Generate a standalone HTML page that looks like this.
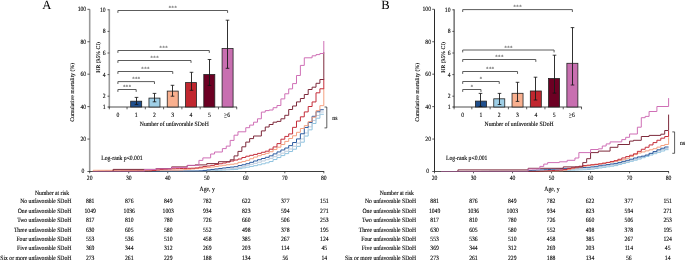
<!DOCTYPE html>
<html><head><meta charset="utf-8"><style>
html,body{margin:0;padding:0;background:#fff;}
svg{display:block;will-change:transform;}
text{font-family:"Liberation Serif", serif;fill:#000;stroke:#000;stroke-width:0.1px;text-rendering:geometricPrecision;}
</style></head><body>
<svg width="685" height="261" viewBox="0 0 685 261">
<rect width="685" height="261" fill="#fff"/>
<text x="42.30" y="8.90" text-anchor="start" font-size="12.6" style="stroke:none">A</text>
<line x1="89.70" y1="9.30" x2="89.70" y2="172.00" stroke="#9a9a9a" stroke-width="1.6"/>
<line x1="89.10" y1="171.50" x2="324.20" y2="171.50" stroke="#3a3a3a" stroke-width="0.9"/>
<line x1="87.40" y1="171.50" x2="89.70" y2="171.50" stroke="#333" stroke-width="0.8"/>
<text transform="translate(84.40 173.40) scale(1 1.15)" text-anchor="end" font-size="5.7" >0</text>
<line x1="87.40" y1="139.06" x2="89.70" y2="139.06" stroke="#333" stroke-width="0.8"/>
<text transform="translate(86.20 140.96) scale(1 1.15)" text-anchor="end" font-size="5.7" >20</text>
<line x1="87.40" y1="106.62" x2="89.70" y2="106.62" stroke="#333" stroke-width="0.8"/>
<text transform="translate(86.20 108.52) scale(1 1.15)" text-anchor="end" font-size="5.7" >40</text>
<line x1="87.40" y1="74.18" x2="89.70" y2="74.18" stroke="#333" stroke-width="0.8"/>
<text transform="translate(86.20 76.08) scale(1 1.15)" text-anchor="end" font-size="5.7" >60</text>
<line x1="87.40" y1="41.74" x2="89.70" y2="41.74" stroke="#333" stroke-width="0.8"/>
<text transform="translate(86.20 43.64) scale(1 1.15)" text-anchor="end" font-size="5.7" >80</text>
<line x1="87.40" y1="9.30" x2="89.70" y2="9.30" stroke="#333" stroke-width="0.8"/>
<text transform="translate(86.20 11.20) scale(1 1.15)" text-anchor="end" font-size="5.7" >100</text>
<line x1="89.70" y1="171.50" x2="89.70" y2="173.30" stroke="#333" stroke-width="0.8"/>
<text transform="translate(89.70 179.80) scale(1 1.15)" text-anchor="middle" font-size="5.7" >20</text>
<line x1="128.72" y1="171.50" x2="128.72" y2="173.30" stroke="#333" stroke-width="0.8"/>
<text transform="translate(128.72 179.80) scale(1 1.15)" text-anchor="middle" font-size="5.7" >30</text>
<line x1="167.73" y1="171.50" x2="167.73" y2="173.30" stroke="#333" stroke-width="0.8"/>
<text transform="translate(167.73 179.80) scale(1 1.15)" text-anchor="middle" font-size="5.7" >40</text>
<line x1="206.75" y1="171.50" x2="206.75" y2="173.30" stroke="#333" stroke-width="0.8"/>
<text transform="translate(206.75 179.80) scale(1 1.15)" text-anchor="middle" font-size="5.7" >50</text>
<line x1="245.77" y1="171.50" x2="245.77" y2="173.30" stroke="#333" stroke-width="0.8"/>
<text transform="translate(245.77 179.80) scale(1 1.15)" text-anchor="middle" font-size="5.7" >60</text>
<line x1="284.79" y1="171.50" x2="284.79" y2="173.30" stroke="#333" stroke-width="0.8"/>
<text transform="translate(284.79 179.80) scale(1 1.15)" text-anchor="middle" font-size="5.7" >70</text>
<line x1="323.80" y1="171.50" x2="323.80" y2="173.30" stroke="#333" stroke-width="0.8"/>
<text transform="translate(323.80 179.80) scale(1 1.15)" text-anchor="middle" font-size="5.7" >80</text>
<path d="M93.20,171.50H117.01V171.45H148.23V171.39H179.44V171.33H198.95V171.25H202.85V171.05H206.75V170.84H210.65V170.63H214.55V170.43H218.46V170.22H222.36V170.02H226.26V169.81H230.16V169.61H234.06V169.40H237.96V168.65H241.87V167.90H245.77V167.16H249.67V166.41H253.57V165.66H257.47V164.77H261.37V163.81H265.28V162.84H269.18V161.52H273.08V159.54H276.98V157.55H280.88V155.58H284.79V153.63H288.69V151.53H292.59V149.22H296.49V146.36H300.39V142.20H304.29V136.07H308.20V129.84H312.10V123.50H316.00V118.23H319.90V114.27H323.80" fill="none" stroke="#8fc3df" stroke-width="1.0"/>
<path d="M93.20,171.50H109.21V171.44H128.72V171.39H148.23V171.34H167.73V171.28H187.24V171.23H198.95V171.13H202.85V170.81H206.75V170.50H210.65V170.18H214.55V169.87H218.46V169.56H222.36V169.24H226.26V168.93H230.16V168.61H234.06V168.30H237.96V167.31H241.87V166.32H245.77V165.33H249.67V164.34H253.57V163.35H257.47V162.20H261.37V160.96H265.28V159.72H269.18V158.33H273.08V156.66H276.98V154.99H280.88V153.18H284.79V151.23H288.69V148.97H292.59V146.27H296.49V143.13H300.39V138.93H304.29V132.98H308.20V126.84H312.10V120.50H316.00V115.46H319.90V112.02H323.80" fill="none" stroke="#bccbdc" stroke-width="1.0"/>
<path d="M93.20,171.50H101.41V171.44H113.11V171.39H124.82V171.33H136.52V171.28H148.23V171.23H159.93V171.17H171.64V171.12H183.34V171.07H195.05V171.01H198.95V170.89H202.85V170.41H206.75V169.92H210.65V169.44H214.55V168.96H218.46V168.47H222.36V167.97H226.26V167.48H230.16V167.09H234.06V166.70H237.96V165.56H241.87V164.75H245.77V163.70H249.67V162.34H253.57V160.98H257.47V159.72H261.37V158.51H265.28V157.30H269.18V155.84H273.08V153.88H276.98V151.93H280.88V149.98H284.79V148.03H288.69V145.61H292.59V142.52H296.49V138.91H300.39V133.78H304.29V127.46H308.20V122.53H312.10V116.31H316.00V111.78H319.90V109.73H323.80" fill="none" stroke="#2c5b9f" stroke-width="1.0"/>
<path d="M93.20,171.50H93.20V170.29H117.01V170.24H140.42V170.18H163.83V170.13H179.44V169.98H183.34V169.63H187.24V169.28H191.14V168.93H195.05V168.58H198.95V168.23H202.85V167.85H206.75V167.45H210.65V167.04H214.55V166.51H218.46V165.90H222.36V165.29H226.26V164.73H230.16V164.26H234.06V163.79H237.96V162.36H241.87V161.55H245.77V160.37H249.67V158.73H253.57V157.08H257.47V155.72H261.37V154.51H265.28V153.30H269.18V151.73H273.08V149.46H276.98V147.20H280.88V144.53H284.79V141.41H288.69V138.47H292.59V135.77H296.49V132.32H300.39V128.49H304.29V125.61H308.20V121.61H312.10V117.24H316.00V110.63H319.90V105.67H323.80V88.20" fill="none" stroke="#f4a080" stroke-width="1.0"/>
<path d="M93.20,171.50H97.50V171.42H105.31V171.36H113.11V171.29H120.91V171.23H128.72V171.16H136.52V171.10H144.32V171.03H148.23V170.98H152.13V170.43H156.03V169.88H159.93V169.48H163.83V169.24H167.73V169.00H171.64V168.78H175.54V168.66H179.44V168.54H183.34V168.42H187.24V168.31H191.14V168.19H195.05V167.91H198.95V167.18H202.85V166.55H206.75V165.99H210.65V165.36H214.55V164.57H218.46V163.78H222.36V163.00H226.26V162.01H230.16V161.02H234.06V160.03H237.96V159.02H241.87V157.49H245.77V156.23H249.67V155.32H253.57V154.42H257.47V153.39H261.37V152.28H265.28V151.18H269.18V149.19H273.08V146.92H276.98V143.60H280.88V139.19H284.79V136.41H288.69V133.92H292.59V127.35H296.49V121.07H300.39V116.82H304.29V111.92H308.20V106.50H312.10V101.95H316.00V92.82H319.90V88.78H323.80V78.70" fill="none" stroke="#c42d3a" stroke-width="1.0"/>
<path d="M93.20,171.50H113.11V169.40H156.03V168.50H171.64V166.90H187.24V165.50H195.05V164.90H206.75V163.60H218.46V161.70H230.16V159.80H234.06V155.90H237.96V151.40H241.87V146.80H245.77V142.10H249.67V138.60H253.57V136.00H261.37V130.90H265.28V127.00H269.18V124.50H273.08V122.20H276.98V121.40H280.88V118.80H284.79V115.30H288.69V109.50H292.59V106.00H296.49V101.90H300.39V98.50H304.29V94.50H308.20V89.50H312.10V87.20H316.00V83.30H319.90V79.50H323.80V78.70H323.80V52.20" fill="none" stroke="#7e2a3c" stroke-width="1.0"/>
<path d="M93.20,171.50H144.32V169.50H156.03V168.80H171.64V167.50H187.24V165.30H198.95V160.40H202.85V157.90H210.65V154.00H214.55V152.00H222.36V148.60H226.26V146.10H230.16V140.40H234.06V135.20H237.96V131.80H245.77V127.70H249.67V125.10H253.57V122.20H257.47V118.80H261.37V112.10H265.28V110.60H269.18V110.00H273.08V107.70H276.98V105.50H280.88V98.90H284.79V93.80H288.69V88.90H292.59V83.60H296.49V75.50H300.39V65.40H304.29V57.80H312.10V55.80H316.00V54.60H319.90V53.50H323.80V52.20H323.80V41.00" fill="none" stroke="#cf6fb6" stroke-width="1.0"/>
<line x1="93.20" y1="171.50" x2="323.80" y2="171.50" stroke="#2a2a2a" stroke-width="0.9" stroke-opacity="0.5"/>
<text transform="translate(207.15 191.00) scale(1 1.15)" text-anchor="middle" font-size="5.7" >Age, y</text>
<text x="72.20" y="92.30" text-anchor="middle" font-size="5.7" transform="rotate(-90 72.20 92.30)" dy="1.9">Cumulative mortality (%)</text>
<text transform="translate(101.20 159.80) scale(1 1.15)" text-anchor="start" font-size="5.7" >Log-rank p&lt;0.001</text>
<line x1="326.80" y1="107.00" x2="326.80" y2="127.90" stroke="#333" stroke-width="0.8"/>
<line x1="324.50" y1="107.00" x2="326.80" y2="107.00" stroke="#333" stroke-width="0.8"/>
<line x1="324.50" y1="127.90" x2="326.80" y2="127.90" stroke="#333" stroke-width="0.8"/>
<text transform="translate(332.30 119.65) scale(1 1.15)" text-anchor="start" font-size="5.7" >ns</text>
<line x1="109.30" y1="9.30" x2="109.30" y2="107.40" stroke="#9a9a9a" stroke-width="1.6"/>
<line x1="108.70" y1="107.00" x2="237.02" y2="107.00" stroke="#3a3a3a" stroke-width="0.9"/>
<line x1="107.50" y1="107.00" x2="109.30" y2="107.00" stroke="#333" stroke-width="0.8"/>
<text transform="translate(105.70 108.90) scale(1 1.15)" text-anchor="end" font-size="5.7" >1</text>
<line x1="107.50" y1="96.20" x2="109.30" y2="96.20" stroke="#333" stroke-width="0.8"/>
<text transform="translate(105.70 98.10) scale(1 1.15)" text-anchor="end" font-size="5.7" >2</text>
<line x1="107.50" y1="74.60" x2="109.30" y2="74.60" stroke="#333" stroke-width="0.8"/>
<text transform="translate(105.70 76.50) scale(1 1.15)" text-anchor="end" font-size="5.7" >4</text>
<line x1="107.50" y1="53.00" x2="109.30" y2="53.00" stroke="#333" stroke-width="0.8"/>
<text transform="translate(105.70 54.90) scale(1 1.15)" text-anchor="end" font-size="5.7" >6</text>
<line x1="107.50" y1="31.40" x2="109.30" y2="31.40" stroke="#333" stroke-width="0.8"/>
<text transform="translate(105.70 33.30) scale(1 1.15)" text-anchor="end" font-size="5.7" >8</text>
<line x1="107.50" y1="9.80" x2="109.30" y2="9.80" stroke="#333" stroke-width="0.8"/>
<text transform="translate(105.70 11.70) scale(1 1.15)" text-anchor="end" font-size="5.7" >10</text>
<line x1="109.30" y1="107.00" x2="109.30" y2="109.30" stroke="#333" stroke-width="0.8"/>
<line x1="127.04" y1="107.00" x2="127.04" y2="109.30" stroke="#333" stroke-width="0.8"/>
<line x1="145.32" y1="107.00" x2="145.32" y2="109.30" stroke="#333" stroke-width="0.8"/>
<line x1="163.60" y1="107.00" x2="163.60" y2="109.30" stroke="#333" stroke-width="0.8"/>
<line x1="181.88" y1="107.00" x2="181.88" y2="109.30" stroke="#333" stroke-width="0.8"/>
<line x1="200.16" y1="107.00" x2="200.16" y2="109.30" stroke="#333" stroke-width="0.8"/>
<line x1="218.44" y1="107.00" x2="218.44" y2="109.30" stroke="#333" stroke-width="0.8"/>
<line x1="236.72" y1="107.00" x2="236.72" y2="109.30" stroke="#333" stroke-width="0.8"/>
<text transform="translate(117.90 116.90) scale(1 1.15)" text-anchor="middle" font-size="5.7" >0</text>
<text transform="translate(136.18 116.90) scale(1 1.15)" text-anchor="middle" font-size="5.7" >1</text>
<text transform="translate(154.46 116.90) scale(1 1.15)" text-anchor="middle" font-size="5.7" >2</text>
<text transform="translate(172.74 116.90) scale(1 1.15)" text-anchor="middle" font-size="5.7" >3</text>
<text transform="translate(191.02 116.90) scale(1 1.15)" text-anchor="middle" font-size="5.7" >4</text>
<text transform="translate(209.30 116.90) scale(1 1.15)" text-anchor="middle" font-size="5.7" >5</text>
<path d="M224.18,113.40L226.68,114.70L224.18,116.00M224.18,117.50H226.68" fill="none" stroke="#333" stroke-width="0.55"/>
<text transform="translate(228.68 116.90) scale(1 1.15)" text-anchor="middle" font-size="5.7" >6</text>
<text transform="translate(174.30 125.90) scale(1 1.15)" text-anchor="middle" font-size="5.7" >Number of unfavorable SDoH</text>
<text x="98.50" y="57.30" text-anchor="middle" font-size="5.7" transform="rotate(-90 98.50 57.30)" dy="1.9">HR (95% CI)</text>
<rect x="130.68" y="101.20" width="11.00" height="5.80" fill="#1f4f8d" stroke="#222" stroke-width="0.8"/>
<rect x="148.96" y="98.10" width="11.00" height="8.90" fill="#9fcfe6" stroke="#222" stroke-width="0.8"/>
<rect x="167.24" y="91.10" width="11.00" height="15.90" fill="#f9b08f" stroke="#222" stroke-width="0.8"/>
<rect x="185.52" y="82.60" width="11.00" height="24.40" fill="#c1272f" stroke="#222" stroke-width="0.8"/>
<rect x="203.80" y="74.50" width="11.00" height="32.50" fill="#6c0023" stroke="#222" stroke-width="0.8"/>
<rect x="222.08" y="48.40" width="11.00" height="58.60" fill="#c86fb0" stroke="#222" stroke-width="0.8"/>
<line x1="136.50" y1="97.40" x2="136.50" y2="104.40" stroke="#1a1a1a" stroke-width="0.9"/>
<line x1="134.70" y1="97.40" x2="138.30" y2="97.40" stroke="#111" stroke-width="0.8"/>
<line x1="134.70" y1="104.40" x2="138.30" y2="104.40" stroke="#111" stroke-width="0.8"/>
<line x1="154.50" y1="93.40" x2="154.50" y2="101.80" stroke="#1a1a1a" stroke-width="0.9"/>
<line x1="152.70" y1="93.40" x2="156.30" y2="93.40" stroke="#111" stroke-width="0.8"/>
<line x1="152.70" y1="101.80" x2="156.30" y2="101.80" stroke="#111" stroke-width="0.8"/>
<line x1="172.50" y1="85.30" x2="172.50" y2="96.20" stroke="#1a1a1a" stroke-width="0.9"/>
<line x1="170.70" y1="85.30" x2="174.30" y2="85.30" stroke="#111" stroke-width="0.8"/>
<line x1="170.70" y1="96.20" x2="174.30" y2="96.20" stroke="#111" stroke-width="0.8"/>
<line x1="191.50" y1="72.30" x2="191.50" y2="90.30" stroke="#1a1a1a" stroke-width="0.9"/>
<line x1="189.70" y1="72.30" x2="193.30" y2="72.30" stroke="#111" stroke-width="0.8"/>
<line x1="189.70" y1="90.30" x2="193.30" y2="90.30" stroke="#111" stroke-width="0.8"/>
<line x1="209.50" y1="59.50" x2="209.50" y2="85.40" stroke="#1a1a1a" stroke-width="0.9"/>
<line x1="207.70" y1="59.50" x2="211.30" y2="59.50" stroke="#111" stroke-width="0.8"/>
<line x1="207.70" y1="85.40" x2="211.30" y2="85.40" stroke="#111" stroke-width="0.8"/>
<line x1="227.50" y1="20.20" x2="227.50" y2="68.30" stroke="#1a1a1a" stroke-width="0.9"/>
<line x1="225.70" y1="20.20" x2="229.30" y2="20.20" stroke="#111" stroke-width="0.8"/>
<line x1="225.70" y1="68.30" x2="229.30" y2="68.30" stroke="#111" stroke-width="0.8"/>
<path d="M117.90,91.90V89.50H136.18V91.90" fill="none" stroke="#4a4a4a" stroke-width="0.9"/>
<text transform="translate(127.04 89.00) scale(1 1.15)" text-anchor="middle" font-size="5.7" style="stroke:none;fill:#333">***</text>
<path d="M117.90,84.00V81.60H154.46V84.00" fill="none" stroke="#4a4a4a" stroke-width="0.9"/>
<text transform="translate(136.18 81.10) scale(1 1.15)" text-anchor="middle" font-size="5.7" style="stroke:none;fill:#333">***</text>
<path d="M117.90,73.90V71.50H172.74V73.90" fill="none" stroke="#4a4a4a" stroke-width="0.9"/>
<text transform="translate(145.32 71.00) scale(1 1.15)" text-anchor="middle" font-size="5.7" style="stroke:none;fill:#333">***</text>
<path d="M117.90,62.90V60.50H191.02V62.90" fill="none" stroke="#4a4a4a" stroke-width="0.9"/>
<text transform="translate(154.46 60.00) scale(1 1.15)" text-anchor="middle" font-size="5.7" style="stroke:none;fill:#333">***</text>
<path d="M117.90,52.90V50.50H209.30V52.90" fill="none" stroke="#4a4a4a" stroke-width="0.9"/>
<text transform="translate(163.60 50.00) scale(1 1.15)" text-anchor="middle" font-size="5.7" style="stroke:none;fill:#333">***</text>
<path d="M117.90,12.90V10.50H227.58V12.90" fill="none" stroke="#4a4a4a" stroke-width="0.9"/>
<text transform="translate(172.74 10.00) scale(1 1.15)" text-anchor="middle" font-size="5.7" style="stroke:none;fill:#333">***</text>
<text transform="translate(52.00 195.00) scale(1 1.15)" text-anchor="middle" font-size="5.7" >Number at risk</text>
<text transform="translate(71.40 203.10) scale(1 1.15)" text-anchor="end" font-size="5.7" >No unfavorable SDoH</text>
<text transform="translate(90.20 203.10) scale(1 1.15)" text-anchor="middle" font-size="5.7" >881</text>
<text transform="translate(129.22 203.10) scale(1 1.15)" text-anchor="middle" font-size="5.7" >876</text>
<text transform="translate(168.23 203.10) scale(1 1.15)" text-anchor="middle" font-size="5.7" >849</text>
<text transform="translate(207.25 203.10) scale(1 1.15)" text-anchor="middle" font-size="5.7" >782</text>
<text transform="translate(246.27 203.10) scale(1 1.15)" text-anchor="middle" font-size="5.7" >622</text>
<text transform="translate(285.29 203.10) scale(1 1.15)" text-anchor="middle" font-size="5.7" >377</text>
<text transform="translate(324.30 203.10) scale(1 1.15)" text-anchor="middle" font-size="5.7" >151</text>
<text transform="translate(71.40 212.57) scale(1 1.15)" text-anchor="end" font-size="5.7" >One unfavorable SDoH</text>
<text transform="translate(90.20 212.57) scale(1 1.15)" text-anchor="middle" font-size="5.7" >1049</text>
<text transform="translate(129.22 212.57) scale(1 1.15)" text-anchor="middle" font-size="5.7" >1036</text>
<text transform="translate(168.23 212.57) scale(1 1.15)" text-anchor="middle" font-size="5.7" >1003</text>
<text transform="translate(207.25 212.57) scale(1 1.15)" text-anchor="middle" font-size="5.7" >934</text>
<text transform="translate(246.27 212.57) scale(1 1.15)" text-anchor="middle" font-size="5.7" >823</text>
<text transform="translate(285.29 212.57) scale(1 1.15)" text-anchor="middle" font-size="5.7" >594</text>
<text transform="translate(324.30 212.57) scale(1 1.15)" text-anchor="middle" font-size="5.7" >271</text>
<text transform="translate(71.40 222.04) scale(1 1.15)" text-anchor="end" font-size="5.7" >Two unfavorable SDoH</text>
<text transform="translate(90.20 222.04) scale(1 1.15)" text-anchor="middle" font-size="5.7" >817</text>
<text transform="translate(129.22 222.04) scale(1 1.15)" text-anchor="middle" font-size="5.7" >810</text>
<text transform="translate(168.23 222.04) scale(1 1.15)" text-anchor="middle" font-size="5.7" >780</text>
<text transform="translate(207.25 222.04) scale(1 1.15)" text-anchor="middle" font-size="5.7" >726</text>
<text transform="translate(246.27 222.04) scale(1 1.15)" text-anchor="middle" font-size="5.7" >660</text>
<text transform="translate(285.29 222.04) scale(1 1.15)" text-anchor="middle" font-size="5.7" >506</text>
<text transform="translate(324.30 222.04) scale(1 1.15)" text-anchor="middle" font-size="5.7" >253</text>
<text transform="translate(71.40 231.51) scale(1 1.15)" text-anchor="end" font-size="5.7" >Three unfavorable SDoH</text>
<text transform="translate(90.20 231.51) scale(1 1.15)" text-anchor="middle" font-size="5.7" >630</text>
<text transform="translate(129.22 231.51) scale(1 1.15)" text-anchor="middle" font-size="5.7" >605</text>
<text transform="translate(168.23 231.51) scale(1 1.15)" text-anchor="middle" font-size="5.7" >580</text>
<text transform="translate(207.25 231.51) scale(1 1.15)" text-anchor="middle" font-size="5.7" >552</text>
<text transform="translate(246.27 231.51) scale(1 1.15)" text-anchor="middle" font-size="5.7" >498</text>
<text transform="translate(285.29 231.51) scale(1 1.15)" text-anchor="middle" font-size="5.7" >378</text>
<text transform="translate(324.30 231.51) scale(1 1.15)" text-anchor="middle" font-size="5.7" >195</text>
<text transform="translate(71.40 240.98) scale(1 1.15)" text-anchor="end" font-size="5.7" >Four unfavorable SDoH</text>
<text transform="translate(90.20 240.98) scale(1 1.15)" text-anchor="middle" font-size="5.7" >553</text>
<text transform="translate(129.22 240.98) scale(1 1.15)" text-anchor="middle" font-size="5.7" >536</text>
<text transform="translate(168.23 240.98) scale(1 1.15)" text-anchor="middle" font-size="5.7" >510</text>
<text transform="translate(207.25 240.98) scale(1 1.15)" text-anchor="middle" font-size="5.7" >458</text>
<text transform="translate(246.27 240.98) scale(1 1.15)" text-anchor="middle" font-size="5.7" >385</text>
<text transform="translate(285.29 240.98) scale(1 1.15)" text-anchor="middle" font-size="5.7" >267</text>
<text transform="translate(324.30 240.98) scale(1 1.15)" text-anchor="middle" font-size="5.7" >124</text>
<text transform="translate(71.40 250.45) scale(1 1.15)" text-anchor="end" font-size="5.7" >Five unfavorable SDoH</text>
<text transform="translate(90.20 250.45) scale(1 1.15)" text-anchor="middle" font-size="5.7" >369</text>
<text transform="translate(129.22 250.45) scale(1 1.15)" text-anchor="middle" font-size="5.7" >344</text>
<text transform="translate(168.23 250.45) scale(1 1.15)" text-anchor="middle" font-size="5.7" >312</text>
<text transform="translate(207.25 250.45) scale(1 1.15)" text-anchor="middle" font-size="5.7" >269</text>
<text transform="translate(246.27 250.45) scale(1 1.15)" text-anchor="middle" font-size="5.7" >203</text>
<text transform="translate(285.29 250.45) scale(1 1.15)" text-anchor="middle" font-size="5.7" >114</text>
<text transform="translate(324.30 250.45) scale(1 1.15)" text-anchor="middle" font-size="5.7" >45</text>
<text transform="translate(71.40 259.92) scale(1 1.15)" text-anchor="end" font-size="5.7" >Six or more unfavorable SDoH</text>
<text transform="translate(90.20 259.92) scale(1 1.15)" text-anchor="middle" font-size="5.7" >273</text>
<text transform="translate(129.22 259.92) scale(1 1.15)" text-anchor="middle" font-size="5.7" >261</text>
<text transform="translate(168.23 259.92) scale(1 1.15)" text-anchor="middle" font-size="5.7" >229</text>
<text transform="translate(207.25 259.92) scale(1 1.15)" text-anchor="middle" font-size="5.7" >188</text>
<text transform="translate(246.27 259.92) scale(1 1.15)" text-anchor="middle" font-size="5.7" >134</text>
<text transform="translate(285.29 259.92) scale(1 1.15)" text-anchor="middle" font-size="5.7" >56</text>
<text transform="translate(324.30 259.92) scale(1 1.15)" text-anchor="middle" font-size="5.7" >14</text>
<text x="381.20" y="8.90" text-anchor="start" font-size="12.6" style="stroke:none">B</text>
<line x1="434.50" y1="9.30" x2="434.50" y2="172.00" stroke="#2a2a2a" stroke-width="1.0"/>
<line x1="433.90" y1="171.50" x2="669.00" y2="171.50" stroke="#3a3a3a" stroke-width="0.9"/>
<line x1="432.20" y1="171.50" x2="434.50" y2="171.50" stroke="#333" stroke-width="0.8"/>
<text transform="translate(429.20 173.40) scale(1 1.15)" text-anchor="end" font-size="5.7" >0</text>
<line x1="432.20" y1="139.06" x2="434.50" y2="139.06" stroke="#333" stroke-width="0.8"/>
<text transform="translate(431.00 140.96) scale(1 1.15)" text-anchor="end" font-size="5.7" >20</text>
<line x1="432.20" y1="106.62" x2="434.50" y2="106.62" stroke="#333" stroke-width="0.8"/>
<text transform="translate(431.00 108.52) scale(1 1.15)" text-anchor="end" font-size="5.7" >40</text>
<line x1="432.20" y1="74.18" x2="434.50" y2="74.18" stroke="#333" stroke-width="0.8"/>
<text transform="translate(431.00 76.08) scale(1 1.15)" text-anchor="end" font-size="5.7" >60</text>
<line x1="432.20" y1="41.74" x2="434.50" y2="41.74" stroke="#333" stroke-width="0.8"/>
<text transform="translate(431.00 43.64) scale(1 1.15)" text-anchor="end" font-size="5.7" >80</text>
<line x1="432.20" y1="9.30" x2="434.50" y2="9.30" stroke="#333" stroke-width="0.8"/>
<text transform="translate(431.00 11.20) scale(1 1.15)" text-anchor="end" font-size="5.7" >100</text>
<line x1="434.50" y1="171.50" x2="434.50" y2="173.30" stroke="#333" stroke-width="0.8"/>
<text transform="translate(434.50 179.80) scale(1 1.15)" text-anchor="middle" font-size="5.7" >20</text>
<line x1="473.52" y1="171.50" x2="473.52" y2="173.30" stroke="#333" stroke-width="0.8"/>
<text transform="translate(473.52 179.80) scale(1 1.15)" text-anchor="middle" font-size="5.7" >30</text>
<line x1="512.53" y1="171.50" x2="512.53" y2="173.30" stroke="#333" stroke-width="0.8"/>
<text transform="translate(512.53 179.80) scale(1 1.15)" text-anchor="middle" font-size="5.7" >40</text>
<line x1="551.55" y1="171.50" x2="551.55" y2="173.30" stroke="#333" stroke-width="0.8"/>
<text transform="translate(551.55 179.80) scale(1 1.15)" text-anchor="middle" font-size="5.7" >50</text>
<line x1="590.57" y1="171.50" x2="590.57" y2="173.30" stroke="#333" stroke-width="0.8"/>
<text transform="translate(590.57 179.80) scale(1 1.15)" text-anchor="middle" font-size="5.7" >60</text>
<line x1="629.59" y1="171.50" x2="629.59" y2="173.30" stroke="#333" stroke-width="0.8"/>
<text transform="translate(629.59 179.80) scale(1 1.15)" text-anchor="middle" font-size="5.7" >70</text>
<line x1="668.60" y1="171.50" x2="668.60" y2="173.30" stroke="#333" stroke-width="0.8"/>
<text transform="translate(668.60 179.80) scale(1 1.15)" text-anchor="middle" font-size="5.7" >80</text>
<path d="M441.00,171.50H539.85V171.38H543.75V171.23H547.65V171.08H551.55V170.92H555.45V170.77H559.35V170.62H563.26V170.47H567.16V170.31H571.06V170.16H574.96V170.01H578.86V169.86H582.76V169.71H586.67V169.55H590.57V169.12H594.47V168.54H598.37V167.95H602.27V167.37H606.17V166.78H610.08V166.20H613.98V165.61H617.88V164.54H621.78V163.46H625.68V162.37H629.59V161.29H633.49V160.21H637.39V159.04H641.29V157.70H645.19V156.36H649.09V155.02H653.00V153.68H656.90V152.34H660.80V151.00H664.70V149.67H668.60" fill="none" stroke="#8fc3df" stroke-width="1.0"/>
<path d="M441.00,171.50H489.12V171.45H539.85V171.30H543.75V171.07H547.65V170.84H551.55V170.62H555.45V170.39H559.35V170.16H563.26V169.94H567.16V169.71H571.06V169.49H574.96V169.26H578.86V169.03H582.76V168.81H586.67V168.58H590.57V168.11H594.47V167.51H598.37V166.91H602.27V166.31H606.17V165.71H610.08V165.11H613.98V164.51H617.88V163.46H621.78V162.39H625.68V161.33H629.59V160.26H633.49V159.20H637.39V158.01H641.29V156.59H645.19V155.16H649.09V153.74H653.00V152.32H656.90V150.89H660.80V149.56H664.70V148.39H668.60" fill="none" stroke="#bccbdc" stroke-width="1.0"/>
<path d="M441.00,171.50H481.32V171.45H528.14V170.57H532.04V170.35H535.94V170.13H539.85V169.91H543.75V169.70H547.65V169.48H551.55V169.26H555.45V169.04H559.35V168.83H563.26V168.61H567.16V168.39H571.06V168.17H574.96V167.96H578.86V167.74H582.76V167.52H586.67V167.30H590.57V166.90H594.47V166.32H598.37V165.73H602.27V165.15H606.17V164.57H610.08V163.98H613.98V163.40H617.88V162.42H621.78V161.36H625.68V160.31H629.59V159.21H633.49V158.00H637.39V156.93H641.29V156.15H645.19V155.08H649.09V153.33H653.00V151.57H656.90V149.81H660.80V148.24H664.70V147.01H668.60" fill="none" stroke="#2c5b9f" stroke-width="1.0"/>
<path d="M441.00,171.50H465.71V171.45H500.83V171.39H535.94V171.34H559.35V171.03H563.26V170.22H567.16V169.41H571.06V168.60H574.96V167.79H578.86V166.98H582.76V166.23H586.67V165.63H590.57V165.03H594.47V164.43H598.37V163.83H602.27V163.23H606.17V162.63H610.08V162.03H613.98V161.31H617.88V160.53H621.78V159.75H625.68V158.27H629.59V156.45H633.49V154.63H637.39V153.01H641.29V151.94H645.19V150.86H649.09V149.79H653.00V148.71H656.90V147.13H660.80V145.53H664.70V144.46H668.60V137.30" fill="none" stroke="#f4a080" stroke-width="1.0"/>
<path d="M441.00,171.50H489.12V171.45H539.85V171.28H543.75V171.03H547.65V170.77H551.55V170.52H555.45V170.26H559.35V170.01H563.26V169.45H567.16V168.64H571.06V167.84H574.96V167.03H578.86V166.23H582.76V165.60H586.67V165.18H590.57V164.75H594.47V164.33H598.37V163.91H602.27V163.20H606.17V162.40H610.08V161.61H613.98V160.67H617.88V159.30H621.78V157.93H625.68V156.58H629.59V155.27H633.49V153.82H637.39V151.35H641.29V149.25H645.19V147.26H649.09V144.93H653.00V142.60H656.90V140.26H660.80V138.18H664.70V136.53H668.60V131.00" fill="none" stroke="#c42d3a" stroke-width="1.0"/>
<path d="M441.00,171.50H457.91V169.90H528.14V168.30H563.26V166.90H582.76V162.60H586.67V158.70H590.57V152.60H598.37V151.10H610.08V147.30H617.88V144.50H629.59V141.10H633.49V140.30H641.29V136.50H649.09V135.40H660.80V134.20H664.70V130.50H668.60V130.30H668.60V114.60" fill="none" stroke="#7e2a3c" stroke-width="1.0"/>
<path d="M441.00,171.50H528.14V169.00H539.85V166.40H543.75V164.10H547.65V162.60H559.35V161.80H567.16V160.30H574.96V158.00H578.86V152.60H590.57V149.50H598.37V148.80H602.27V146.00H606.17V143.90H610.08V141.90H621.78V139.60H625.68V137.30H629.59V134.00H637.39V127.20H641.29V117.70H645.19V116.40H649.09V111.50H656.90V106.50H668.60V98.10" fill="none" stroke="#cf6fb6" stroke-width="1.0"/>
<line x1="441.00" y1="171.50" x2="668.60" y2="171.50" stroke="#2a2a2a" stroke-width="0.9" stroke-opacity="0.5"/>
<text transform="translate(551.95 191.00) scale(1 1.15)" text-anchor="middle" font-size="5.7" >Age, y</text>
<text x="417.00" y="92.30" text-anchor="middle" font-size="5.7" transform="rotate(-90 417.00 92.30)" dy="1.9">Cumulative mortality (%)</text>
<text transform="translate(446.00 159.80) scale(1 1.15)" text-anchor="start" font-size="5.7" >Log-rank p&lt;0.001</text>
<line x1="674.60" y1="131.90" x2="674.60" y2="153.30" stroke="#333" stroke-width="0.8"/>
<line x1="672.30" y1="131.90" x2="674.60" y2="131.90" stroke="#333" stroke-width="0.8"/>
<line x1="672.30" y1="153.30" x2="674.60" y2="153.30" stroke="#333" stroke-width="0.8"/>
<text transform="translate(680.10 144.80) scale(1 1.15)" text-anchor="start" font-size="5.7" >ns</text>
<line x1="454.10" y1="9.30" x2="454.10" y2="107.40" stroke="#2a2a2a" stroke-width="1.0"/>
<line x1="453.50" y1="107.00" x2="581.82" y2="107.00" stroke="#3a3a3a" stroke-width="0.9"/>
<line x1="452.30" y1="107.00" x2="454.10" y2="107.00" stroke="#333" stroke-width="0.8"/>
<text transform="translate(450.50 108.90) scale(1 1.15)" text-anchor="end" font-size="5.7" >1</text>
<line x1="452.30" y1="96.20" x2="454.10" y2="96.20" stroke="#333" stroke-width="0.8"/>
<text transform="translate(450.50 98.10) scale(1 1.15)" text-anchor="end" font-size="5.7" >2</text>
<line x1="452.30" y1="74.60" x2="454.10" y2="74.60" stroke="#333" stroke-width="0.8"/>
<text transform="translate(450.50 76.50) scale(1 1.15)" text-anchor="end" font-size="5.7" >4</text>
<line x1="452.30" y1="53.00" x2="454.10" y2="53.00" stroke="#333" stroke-width="0.8"/>
<text transform="translate(450.50 54.90) scale(1 1.15)" text-anchor="end" font-size="5.7" >6</text>
<line x1="452.30" y1="31.40" x2="454.10" y2="31.40" stroke="#333" stroke-width="0.8"/>
<text transform="translate(450.50 33.30) scale(1 1.15)" text-anchor="end" font-size="5.7" >8</text>
<line x1="452.30" y1="9.80" x2="454.10" y2="9.80" stroke="#333" stroke-width="0.8"/>
<text transform="translate(450.50 11.70) scale(1 1.15)" text-anchor="end" font-size="5.7" >10</text>
<line x1="454.10" y1="107.00" x2="454.10" y2="109.30" stroke="#333" stroke-width="0.8"/>
<line x1="471.84" y1="107.00" x2="471.84" y2="109.30" stroke="#333" stroke-width="0.8"/>
<line x1="490.12" y1="107.00" x2="490.12" y2="109.30" stroke="#333" stroke-width="0.8"/>
<line x1="508.40" y1="107.00" x2="508.40" y2="109.30" stroke="#333" stroke-width="0.8"/>
<line x1="526.68" y1="107.00" x2="526.68" y2="109.30" stroke="#333" stroke-width="0.8"/>
<line x1="544.96" y1="107.00" x2="544.96" y2="109.30" stroke="#333" stroke-width="0.8"/>
<line x1="563.24" y1="107.00" x2="563.24" y2="109.30" stroke="#333" stroke-width="0.8"/>
<line x1="581.52" y1="107.00" x2="581.52" y2="109.30" stroke="#333" stroke-width="0.8"/>
<text transform="translate(462.70 116.90) scale(1 1.15)" text-anchor="middle" font-size="5.7" >0</text>
<text transform="translate(480.98 116.90) scale(1 1.15)" text-anchor="middle" font-size="5.7" >1</text>
<text transform="translate(499.26 116.90) scale(1 1.15)" text-anchor="middle" font-size="5.7" >2</text>
<text transform="translate(517.54 116.90) scale(1 1.15)" text-anchor="middle" font-size="5.7" >3</text>
<text transform="translate(535.82 116.90) scale(1 1.15)" text-anchor="middle" font-size="5.7" >4</text>
<text transform="translate(554.10 116.90) scale(1 1.15)" text-anchor="middle" font-size="5.7" >5</text>
<path d="M568.98,113.40L571.48,114.70L568.98,116.00M568.98,117.50H571.48" fill="none" stroke="#333" stroke-width="0.55"/>
<text transform="translate(573.48 116.90) scale(1 1.15)" text-anchor="middle" font-size="5.7" >6</text>
<text transform="translate(519.10 125.90) scale(1 1.15)" text-anchor="middle" font-size="5.7" >Number of unfavorable SDoH</text>
<text x="443.30" y="57.30" text-anchor="middle" font-size="5.7" transform="rotate(-90 443.30 57.30)" dy="1.9">HR (95% CI)</text>
<rect x="475.48" y="101.10" width="11.00" height="5.90" fill="#1f4f8d" stroke="#222" stroke-width="0.8"/>
<rect x="493.76" y="98.80" width="11.00" height="8.20" fill="#9fcfe6" stroke="#222" stroke-width="0.8"/>
<rect x="512.04" y="93.30" width="11.00" height="13.70" fill="#f9b08f" stroke="#222" stroke-width="0.8"/>
<rect x="530.32" y="91.00" width="11.00" height="16.00" fill="#c1272f" stroke="#222" stroke-width="0.8"/>
<rect x="548.60" y="78.50" width="11.00" height="28.50" fill="#6c0023" stroke="#222" stroke-width="0.8"/>
<rect x="566.88" y="63.30" width="11.00" height="43.70" fill="#c86fb0" stroke="#222" stroke-width="0.8"/>
<line x1="480.50" y1="93.40" x2="480.50" y2="106.40" stroke="#1a1a1a" stroke-width="0.9"/>
<line x1="478.70" y1="93.40" x2="482.30" y2="93.40" stroke="#111" stroke-width="0.8"/>
<line x1="478.70" y1="106.40" x2="482.30" y2="106.40" stroke="#111" stroke-width="0.8"/>
<line x1="499.50" y1="93.40" x2="499.50" y2="104.50" stroke="#1a1a1a" stroke-width="0.9"/>
<line x1="497.70" y1="93.40" x2="501.30" y2="93.40" stroke="#111" stroke-width="0.8"/>
<line x1="497.70" y1="104.50" x2="501.30" y2="104.50" stroke="#111" stroke-width="0.8"/>
<line x1="517.50" y1="82.30" x2="517.50" y2="101.40" stroke="#1a1a1a" stroke-width="0.9"/>
<line x1="515.70" y1="82.30" x2="519.30" y2="82.30" stroke="#111" stroke-width="0.8"/>
<line x1="515.70" y1="101.40" x2="519.30" y2="101.40" stroke="#111" stroke-width="0.8"/>
<line x1="535.50" y1="77.20" x2="535.50" y2="100.00" stroke="#1a1a1a" stroke-width="0.9"/>
<line x1="533.70" y1="77.20" x2="537.30" y2="77.20" stroke="#111" stroke-width="0.8"/>
<line x1="533.70" y1="100.00" x2="537.30" y2="100.00" stroke="#111" stroke-width="0.8"/>
<line x1="554.50" y1="55.20" x2="554.50" y2="93.10" stroke="#1a1a1a" stroke-width="0.9"/>
<line x1="552.70" y1="55.20" x2="556.30" y2="55.20" stroke="#111" stroke-width="0.8"/>
<line x1="552.70" y1="93.10" x2="556.30" y2="93.10" stroke="#111" stroke-width="0.8"/>
<line x1="572.50" y1="27.60" x2="572.50" y2="85.00" stroke="#1a1a1a" stroke-width="0.9"/>
<line x1="570.70" y1="27.60" x2="574.30" y2="27.60" stroke="#111" stroke-width="0.8"/>
<line x1="570.70" y1="85.00" x2="574.30" y2="85.00" stroke="#111" stroke-width="0.8"/>
<path d="M462.70,91.90V89.50H480.98V91.90" fill="none" stroke="#4a4a4a" stroke-width="0.9"/>
<text transform="translate(471.84 89.00) scale(1 1.15)" text-anchor="middle" font-size="5.7" style="stroke:none;fill:#333">*</text>
<path d="M462.70,83.90V81.50H499.26V83.90" fill="none" stroke="#4a4a4a" stroke-width="0.9"/>
<text transform="translate(480.98 81.00) scale(1 1.15)" text-anchor="middle" font-size="5.7" style="stroke:none;fill:#333">*</text>
<path d="M462.70,73.90V71.50H517.54V73.90" fill="none" stroke="#4a4a4a" stroke-width="0.9"/>
<text transform="translate(490.12 71.00) scale(1 1.15)" text-anchor="middle" font-size="5.7" style="stroke:none;fill:#333">***</text>
<path d="M462.70,61.90V59.50H535.82V61.90" fill="none" stroke="#4a4a4a" stroke-width="0.9"/>
<text transform="translate(499.26 59.00) scale(1 1.15)" text-anchor="middle" font-size="5.7" style="stroke:none;fill:#333">***</text>
<path d="M462.70,52.40V50.00H554.10V52.40" fill="none" stroke="#4a4a4a" stroke-width="0.9"/>
<text transform="translate(508.40 49.50) scale(1 1.15)" text-anchor="middle" font-size="5.7" style="stroke:none;fill:#333">***</text>
<path d="M462.70,12.00V9.60H572.38V12.00" fill="none" stroke="#4a4a4a" stroke-width="0.9"/>
<text transform="translate(517.54 9.10) scale(1 1.15)" text-anchor="middle" font-size="5.7" style="stroke:none;fill:#333">***</text>
<text transform="translate(396.80 195.00) scale(1 1.15)" text-anchor="middle" font-size="5.7" >Number at risk</text>
<text transform="translate(416.20 203.10) scale(1 1.15)" text-anchor="end" font-size="5.7" >No unfavorable SDoH</text>
<text transform="translate(434.60 203.10) scale(1 1.15)" text-anchor="middle" font-size="5.7" >881</text>
<text transform="translate(473.45 203.10) scale(1 1.15)" text-anchor="middle" font-size="5.7" >876</text>
<text transform="translate(512.29 203.10) scale(1 1.15)" text-anchor="middle" font-size="5.7" >849</text>
<text transform="translate(551.14 203.10) scale(1 1.15)" text-anchor="middle" font-size="5.7" >782</text>
<text transform="translate(589.99 203.10) scale(1 1.15)" text-anchor="middle" font-size="5.7" >622</text>
<text transform="translate(628.84 203.10) scale(1 1.15)" text-anchor="middle" font-size="5.7" >377</text>
<text transform="translate(667.68 203.10) scale(1 1.15)" text-anchor="middle" font-size="5.7" >151</text>
<text transform="translate(416.20 212.57) scale(1 1.15)" text-anchor="end" font-size="5.7" >One unfavorable SDoH</text>
<text transform="translate(434.60 212.57) scale(1 1.15)" text-anchor="middle" font-size="5.7" >1049</text>
<text transform="translate(473.45 212.57) scale(1 1.15)" text-anchor="middle" font-size="5.7" >1036</text>
<text transform="translate(512.29 212.57) scale(1 1.15)" text-anchor="middle" font-size="5.7" >1003</text>
<text transform="translate(551.14 212.57) scale(1 1.15)" text-anchor="middle" font-size="5.7" >934</text>
<text transform="translate(589.99 212.57) scale(1 1.15)" text-anchor="middle" font-size="5.7" >823</text>
<text transform="translate(628.84 212.57) scale(1 1.15)" text-anchor="middle" font-size="5.7" >594</text>
<text transform="translate(667.68 212.57) scale(1 1.15)" text-anchor="middle" font-size="5.7" >271</text>
<text transform="translate(416.20 222.04) scale(1 1.15)" text-anchor="end" font-size="5.7" >Two unfavorable SDoH</text>
<text transform="translate(434.60 222.04) scale(1 1.15)" text-anchor="middle" font-size="5.7" >817</text>
<text transform="translate(473.45 222.04) scale(1 1.15)" text-anchor="middle" font-size="5.7" >810</text>
<text transform="translate(512.29 222.04) scale(1 1.15)" text-anchor="middle" font-size="5.7" >780</text>
<text transform="translate(551.14 222.04) scale(1 1.15)" text-anchor="middle" font-size="5.7" >726</text>
<text transform="translate(589.99 222.04) scale(1 1.15)" text-anchor="middle" font-size="5.7" >660</text>
<text transform="translate(628.84 222.04) scale(1 1.15)" text-anchor="middle" font-size="5.7" >506</text>
<text transform="translate(667.68 222.04) scale(1 1.15)" text-anchor="middle" font-size="5.7" >253</text>
<text transform="translate(416.20 231.51) scale(1 1.15)" text-anchor="end" font-size="5.7" >Three unfavorable SDoH</text>
<text transform="translate(434.60 231.51) scale(1 1.15)" text-anchor="middle" font-size="5.7" >630</text>
<text transform="translate(473.45 231.51) scale(1 1.15)" text-anchor="middle" font-size="5.7" >605</text>
<text transform="translate(512.29 231.51) scale(1 1.15)" text-anchor="middle" font-size="5.7" >580</text>
<text transform="translate(551.14 231.51) scale(1 1.15)" text-anchor="middle" font-size="5.7" >552</text>
<text transform="translate(589.99 231.51) scale(1 1.15)" text-anchor="middle" font-size="5.7" >498</text>
<text transform="translate(628.84 231.51) scale(1 1.15)" text-anchor="middle" font-size="5.7" >378</text>
<text transform="translate(667.68 231.51) scale(1 1.15)" text-anchor="middle" font-size="5.7" >195</text>
<text transform="translate(416.20 240.98) scale(1 1.15)" text-anchor="end" font-size="5.7" >Four unfavorable SDoH</text>
<text transform="translate(434.60 240.98) scale(1 1.15)" text-anchor="middle" font-size="5.7" >553</text>
<text transform="translate(473.45 240.98) scale(1 1.15)" text-anchor="middle" font-size="5.7" >536</text>
<text transform="translate(512.29 240.98) scale(1 1.15)" text-anchor="middle" font-size="5.7" >510</text>
<text transform="translate(551.14 240.98) scale(1 1.15)" text-anchor="middle" font-size="5.7" >458</text>
<text transform="translate(589.99 240.98) scale(1 1.15)" text-anchor="middle" font-size="5.7" >385</text>
<text transform="translate(628.84 240.98) scale(1 1.15)" text-anchor="middle" font-size="5.7" >267</text>
<text transform="translate(667.68 240.98) scale(1 1.15)" text-anchor="middle" font-size="5.7" >124</text>
<text transform="translate(416.20 250.45) scale(1 1.15)" text-anchor="end" font-size="5.7" >Five unfavorable SDoH</text>
<text transform="translate(434.60 250.45) scale(1 1.15)" text-anchor="middle" font-size="5.7" >369</text>
<text transform="translate(473.45 250.45) scale(1 1.15)" text-anchor="middle" font-size="5.7" >344</text>
<text transform="translate(512.29 250.45) scale(1 1.15)" text-anchor="middle" font-size="5.7" >312</text>
<text transform="translate(551.14 250.45) scale(1 1.15)" text-anchor="middle" font-size="5.7" >269</text>
<text transform="translate(589.99 250.45) scale(1 1.15)" text-anchor="middle" font-size="5.7" >203</text>
<text transform="translate(628.84 250.45) scale(1 1.15)" text-anchor="middle" font-size="5.7" >114</text>
<text transform="translate(667.68 250.45) scale(1 1.15)" text-anchor="middle" font-size="5.7" >45</text>
<text transform="translate(416.20 259.92) scale(1 1.15)" text-anchor="end" font-size="5.7" >Six or more unfavorable SDoH</text>
<text transform="translate(434.60 259.92) scale(1 1.15)" text-anchor="middle" font-size="5.7" >273</text>
<text transform="translate(473.45 259.92) scale(1 1.15)" text-anchor="middle" font-size="5.7" >261</text>
<text transform="translate(512.29 259.92) scale(1 1.15)" text-anchor="middle" font-size="5.7" >229</text>
<text transform="translate(551.14 259.92) scale(1 1.15)" text-anchor="middle" font-size="5.7" >188</text>
<text transform="translate(589.99 259.92) scale(1 1.15)" text-anchor="middle" font-size="5.7" >134</text>
<text transform="translate(628.84 259.92) scale(1 1.15)" text-anchor="middle" font-size="5.7" >56</text>
<text transform="translate(667.68 259.92) scale(1 1.15)" text-anchor="middle" font-size="5.7" >14</text>
</svg>
</body></html>
